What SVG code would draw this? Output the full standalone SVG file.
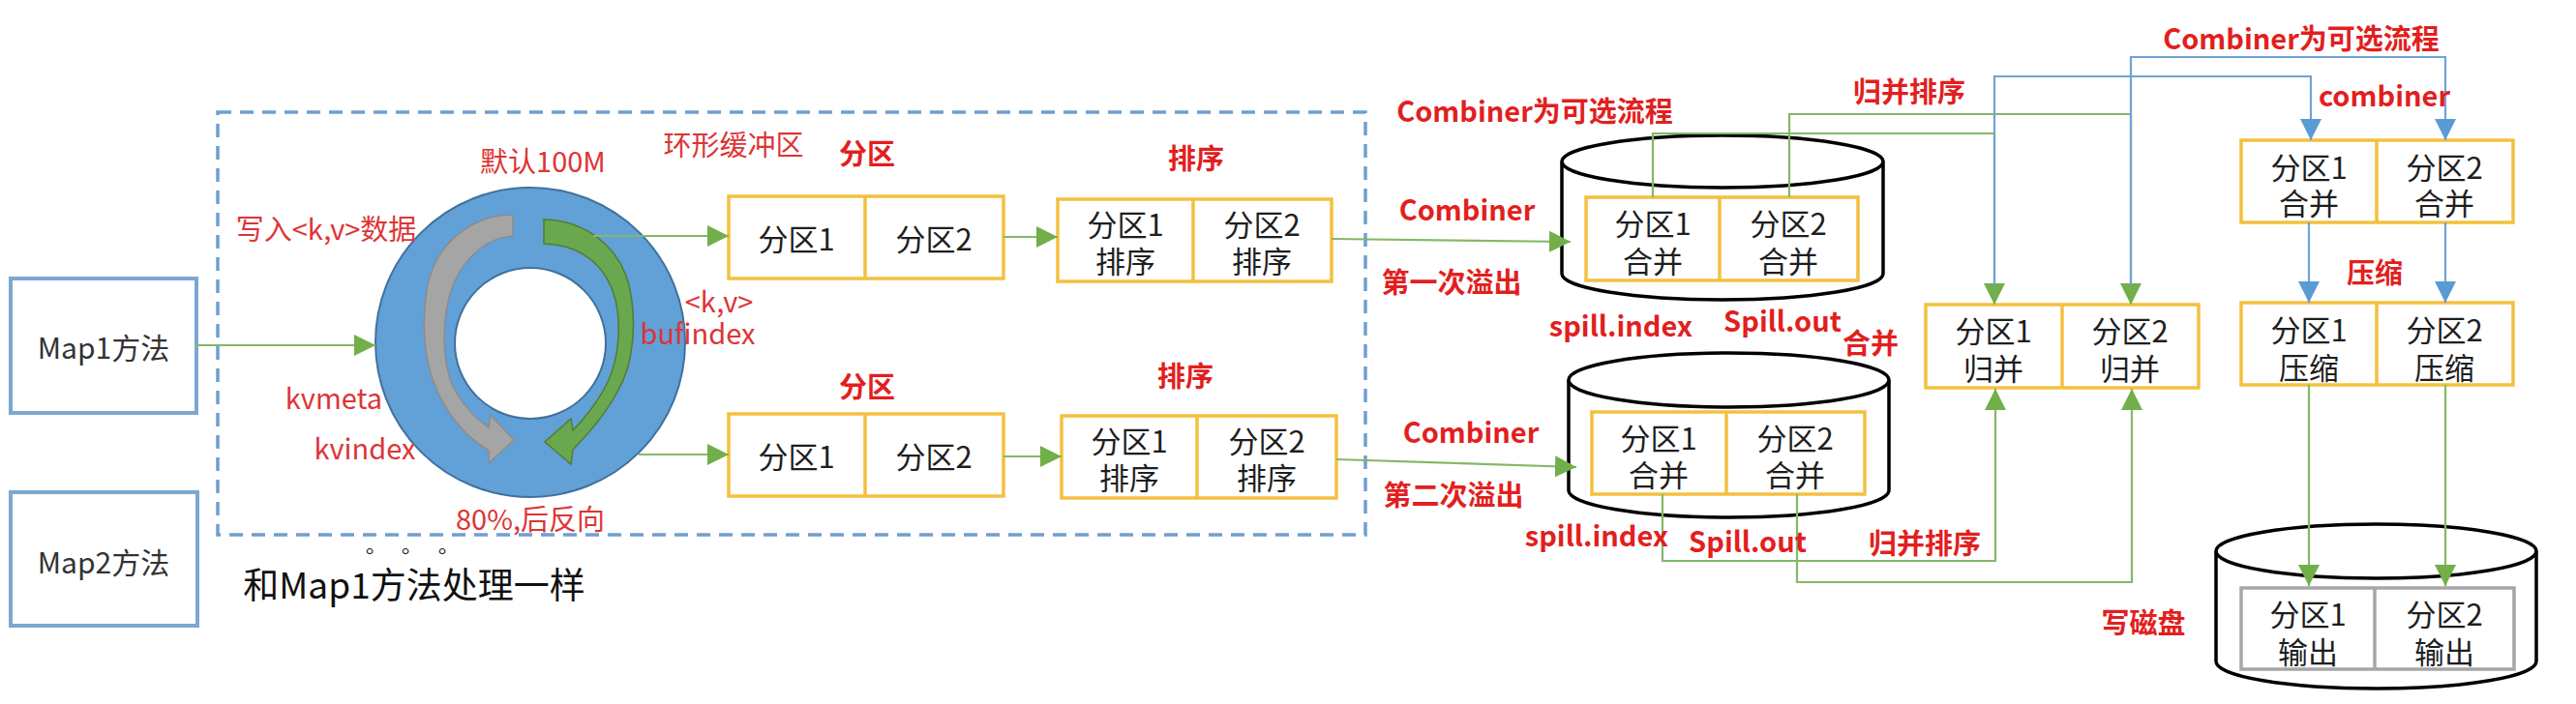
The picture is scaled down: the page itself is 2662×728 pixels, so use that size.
<svg xmlns="http://www.w3.org/2000/svg" width="2662" height="728" viewBox="0 0 2662 728">
<style>
.t{font-family:"Noto Sans CJK SC","Noto Sans",sans-serif;text-anchor:middle;dominant-baseline:central}
.r{fill:#DD3436;font-size:29px}
.rb{fill:#E21F1F;font-size:29px;font-weight:bold}
.bt{fill:#1e1e1e;font-size:31px}
.mt{fill:#333;font-size:30px}
.yb{fill:#fff;stroke:#F3C13F;stroke-width:3.5}
.yl{stroke:#F3C13F;stroke-width:3.5}
.cyl{fill:#fff;stroke:#000;stroke-width:3.5}
.mb{fill:#fff;stroke:#7BA7D0;stroke-width:4}
.g{fill:none;stroke:#84B866;stroke-width:2.2}
.b{fill:none;stroke:#6FA3D6;stroke-width:2.2}
</style>
<defs>
<marker id="ag" markerUnits="userSpaceOnUse" markerWidth="22" markerHeight="22" viewBox="0 0 20 20" refX="20" refY="10" orient="auto"><path d="M0,0 L20,10 L0,20 Z" fill="#72AE4A"/></marker>
<marker id="ab" markerUnits="userSpaceOnUse" markerWidth="22" markerHeight="22" viewBox="0 0 20 20" refX="20" refY="10" orient="auto"><path d="M0,0 L20,10 L0,20 Z" fill="#5B9BD5"/></marker>
</defs>
<rect width="2662" height="728" fill="#fff"/>

<g id="map1"><rect class="mb" x="11" y="288" width="192" height="139"/><text class="t mt" x="107" y="358">Map1方法</text></g>
<g id="map2"><rect class="mb" x="11" y="509" width="193" height="138"/><text class="t mt" x="107" y="580">Map2方法</text></g>
<g id="buffer"><rect x="225" y="116" width="1186" height="437" fill="none" stroke="#6F9FD0" stroke-width="3.5" stroke-dasharray="14 9"/></g>

<g id="ring">
<circle cx="548" cy="354" r="160" fill="#62A0D8" stroke="#41719C" stroke-width="2"/>
<circle cx="548" cy="355" r="78" fill="#fff" stroke="#41719C" stroke-width="2"/>
<path d="M530,222 C485,222 448,255 441,300 C435,340 438,385 460,420 C472,440 488,456 505,466 L505,479 L531,455 L507,429 L505,442 C490,432 474,414 466,395 C458,372 457,340 463,312 C472,272 500,246 530,244 Z" fill="#A5A5A5" stroke="#8C8C8C" stroke-width="1.5"/>
<path d="M562,227 C605,228 640,255 650,295 C658,330 656,375 638,405 C626,428 610,446 592,465 L590,480 L563,457 L590,433 L592,445 C605,432 620,412 628,395 C640,370 642,335 636,310 C626,272 598,253 562,252 Z" fill="#6AA84F" stroke="#507E32" stroke-width="1.5"/>
</g>

<g id="part1"><rect class="yb" x="753" y="203" width="284" height="85"/><line class="yl" x1="894" y1="203" x2="894" y2="288"/>
<text class="t bt" x="823" y="245">分区1</text><text class="t bt" x="965" y="245">分区2</text></g>
<g id="sort1"><rect class="yb" x="1093" y="206" width="283" height="85"/><line class="yl" x1="1233" y1="206" x2="1233" y2="291"/>
<text class="t bt" x="1163" y="230">分区1</text><text class="t bt" x="1163" y="268">排序</text>
<text class="t bt" x="1304" y="230">分区2</text><text class="t bt" x="1304" y="268">排序</text></g>
<g id="part2"><rect class="yb" x="753" y="428" width="284" height="85"/><line class="yl" x1="894" y1="428" x2="894" y2="513"/>
<text class="t bt" x="823" y="470">分区1</text><text class="t bt" x="965" y="470">分区2</text></g>
<g id="sort2"><rect class="yb" x="1097" y="430" width="284" height="85"/><line class="yl" x1="1237" y1="430" x2="1237" y2="515"/>
<text class="t bt" x="1167" y="454">分区1</text><text class="t bt" x="1167" y="492">排序</text>
<text class="t bt" x="1309" y="454">分区2</text><text class="t bt" x="1309" y="492">排序</text></g>

<g id="spill1">
<path class="cyl" d="M1614,167 V283 A166,27 0 0 0 1946,283 V167"/>
<ellipse class="cyl" cx="1780" cy="167" rx="166" ry="27"/>
<rect class="yb" x="1639" y="204" width="281" height="86"/><line class="yl" x1="1777" y1="204" x2="1777" y2="290"/>
<text class="t bt" x="1708" y="229">分区1</text><text class="t bt" x="1708" y="268">合并</text>
<text class="t bt" x="1848" y="229">分区2</text><text class="t bt" x="1848" y="268">合并</text>
</g>
<g id="spill2">
<path class="cyl" d="M1621,393 V507 A165.5,28 0 0 0 1952,507 V393"/>
<ellipse class="cyl" cx="1786.5" cy="393" rx="165.5" ry="28"/>
<rect class="yb" x="1645" y="426" width="282" height="85"/><line class="yl" x1="1784" y1="426" x2="1784" y2="511"/>
<text class="t bt" x="1714" y="451">分区1</text><text class="t bt" x="1714" y="489">合并</text>
<text class="t bt" x="1855" y="451">分区2</text><text class="t bt" x="1855" y="489">合并</text>
</g>
<g id="merge"><rect class="yb" x="1990" y="315" width="282" height="86"/><line class="yl" x1="2131" y1="315" x2="2131" y2="401"/>
<text class="t bt" x="2060" y="340">分区1</text><text class="t bt" x="2060" y="379">归并</text>
<text class="t bt" x="2201" y="340">分区2</text><text class="t bt" x="2201" y="379">归并</text></g>
<g id="combine"><rect class="yb" x="2316" y="145" width="281" height="85"/><line class="yl" x1="2456" y1="145" x2="2456" y2="230"/>
<text class="t bt" x="2386" y="171">分区1</text><text class="t bt" x="2386" y="208">合并</text>
<text class="t bt" x="2526" y="171">分区2</text><text class="t bt" x="2526" y="208">合并</text></g>
<g id="compress"><rect class="yb" x="2316" y="313" width="281" height="85"/><line class="yl" x1="2456" y1="313" x2="2456" y2="398"/>
<text class="t bt" x="2386" y="339">分区1</text><text class="t bt" x="2386" y="378">压缩</text>
<text class="t bt" x="2526" y="339">分区2</text><text class="t bt" x="2526" y="378">压缩</text></g>
<g id="output">
<path class="cyl" d="M2290,570 V684 A165.5,28 0 0 0 2621,684 V570"/>
<ellipse class="cyl" cx="2455.5" cy="570" rx="165.5" ry="28"/>
<rect x="2316" y="608" width="282" height="84" fill="#fff" stroke="#A6A6A6" stroke-width="3.5"/><line x1="2454" y1="608" x2="2454" y2="692" stroke="#A6A6A6" stroke-width="3.5"/>
<text class="t bt" x="2385" y="633">分区1</text><text class="t bt" x="2385" y="672">输出</text>
<text class="t bt" x="2526" y="633">分区2</text><text class="t bt" x="2526" y="672">输出</text>
</g>

<g id="connectors">
<path class="g" d="M203,357 H388" marker-end="url(#ag)"/>
<path class="g" d="M613,244 H753" marker-end="url(#ag)"/>
<path class="g" d="M660,470 H753" marker-end="url(#ag)"/>
<path class="g" d="M1037,245 H1093" marker-end="url(#ag)"/>
<path class="g" d="M1037,472 H1097" marker-end="url(#ag)"/>
<path class="g" d="M1376,247 L1623,250" marker-end="url(#ag)"/>
<path class="g" d="M1381,475 L1629,483" marker-end="url(#ag)"/>
<path class="g" d="M1708,204 V138 H2061 V315" marker-end="url(#ag)"/>
<path class="g" d="M1849,204 V118 H2202 V315" marker-end="url(#ag)"/>
<path class="b" d="M2061,295 V79 H2388 V145" marker-end="url(#ab)"/>
<path class="b" d="M2202,295 V59 H2527 V145" marker-end="url(#ab)"/>
<path class="g" d="M1718,511 V580 H2062 V402" marker-end="url(#ag)"/>
<path class="g" d="M1857,511 V602 H2203 V402" marker-end="url(#ag)"/>
<path class="b" d="M2386,230 V313" marker-end="url(#ab)"/>
<path class="b" d="M2527,230 V313" marker-end="url(#ab)"/>
<path class="g" d="M2386,398 V606" marker-end="url(#ag)"/>
<path class="g" d="M2527,398 V606" marker-end="url(#ag)"/>
</g>

<g id="labels">
<text class="t r" x="561" y="165">默认100M</text>
<text class="t r" x="758" y="148">环形缓冲区</text>
<text class="t r" x="337" y="235">写入&lt;k,v&gt;数据</text>
<text class="t r" x="345" y="410">kvmeta</text>
<text class="t r" x="377" y="462">kvindex</text>
<text class="t r" x="548" y="535">80%,后反向</text>
<text class="t r" x="743" y="310">&lt;k,v&gt;</text>
<text class="t r" x="721" y="343">bufindex</text>
<text class="t rb" x="896" y="157">分区</text>
<text class="t rb" x="1236" y="162">排序</text>
<text class="t rb" x="896" y="398">分区</text>
<text class="t rb" x="1225" y="387">排序</text>
<text class="t rb" x="1586" y="113">Combiner为可选流程</text>
<text class="t rb" x="1516" y="215">Combiner</text>
<text class="t rb" x="1500" y="290">第一次溢出</text>
<text class="t rb" x="1675" y="335">spill.index</text>
<text class="t rb" x="1842" y="330">Spill.out</text>
<text class="t rb" x="1933" y="353">合并</text>
<text class="t rb" x="1973" y="93">归并排序</text>
<text class="t rb" x="2378" y="38">Combiner为可选流程</text>
<text class="t rb" x="2464" y="97">combiner</text>
<text class="t rb" x="2454" y="280">压缩</text>
<text class="t rb" x="1520" y="445">Combiner</text>
<text class="t rb" x="1502" y="510">第二次溢出</text>
<text class="t rb" x="1650" y="552">spill.index</text>
<text class="t rb" x="1806" y="558">Spill.out</text>
<text class="t rb" x="1989" y="560">归并排序</text>
<text class="t rb" x="2215" y="642">写磁盘</text>
<text x="382 419 457" y="568" font-size="22" fill="#222" text-anchor="middle" dominant-baseline="central" font-family="Noto Sans CJK TC, sans-serif">。。。</text>
<text class="t" x="428" y="603" font-size="37" fill="#111">和Map1方法处理一样</text>
</g>
</svg>
